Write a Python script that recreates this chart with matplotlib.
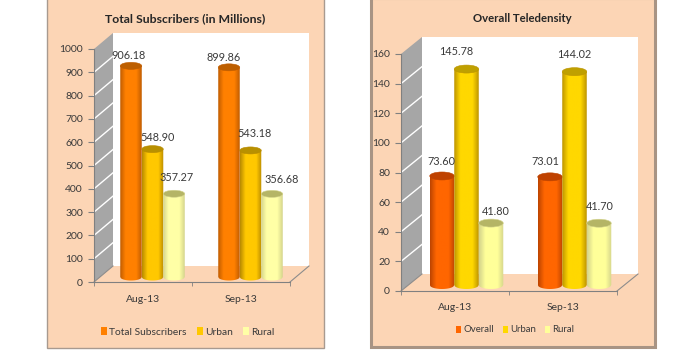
import matplotlib
matplotlib.use("Agg")
import matplotlib.pyplot as plt
import numpy as np
from matplotlib.colors import LinearSegmentedColormap
from matplotlib.patches import Ellipse, PathPatch, Polygon, Rectangle
from matplotlib.path import Path

plt.rcParams['font.family'] = ['Lato', 'DejaVu Sans']

W, H = 700, 350
TEXT = '#3a3a3a'
PEACH = '#fcd5b5'

months = ['Aug-13', 'Sep-13']

subs_names = ['Total Subscribers', 'Urban', 'Rural']
subs_total = [906.18, 899.86]
subs_urban = [548.90, 543.18]
subs_rural = [357.27, 356.68]
subs_ticks = [0, 100, 200, 300, 400, 500, 600, 700, 800, 900, 1000]

dens_names = ['Overall', 'Urban', 'Rural']
dens_overall = [73.60, 73.01]
dens_urban = [145.78, 144.02]
dens_rural = [41.80, 41.70]
dens_ticks = [0, 20, 40, 60, 80, 100, 120, 140, 160]

# label offsets from bar top, in pixels, one row per series
subs_label_off = [[(-3, 10), (-5, 10)], [(5, 12), (4, 17)], [(3, 16), (10, 14)]]
dens_label_off = [[(-1, 14), (-5, 15)], [(-10, 18), (0, 17)], [(5, 12), (1, 17)]]

# (edge, body, top)
subs_colors = [('#c05c00', '#ff8000', '#bd5f00'),
               ('#b88a00', '#ffc800', '#b89000'),
               ('#d4d48c', '#ffffa6', '#b5b566')]
dens_colors = [('#bd4400', '#ff6600', '#bf4200'),
               ('#bd9400', '#ffd800', '#bfa000'),
               ('#d4d48c', '#ffff99', '#b5b566')]


def fx(x):
    return x / W


def fy(y):
    return 1 - y / H


def panel(x0, y0, x1, y1, edge, lw):
    fig.add_artist(Rectangle((fx(x0), fy(y1)), fx(x1 - x0), y1 / H - y0 / H, facecolor=PEACH,
                             edgecolor=edge, linewidth=lw, transform=fig.transFigure, zorder=-1))


def cylinder(ax, xc, base, val, w, eh, cols, z):
    edge, body, top = cols
    xs = np.linspace(-1, 1, 30)
    arc_x = xc + xs * w / 2
    arc_y = base - np.sqrt(1 - xs ** 2) * eh / 2
    verts = list(zip(arc_x, arc_y)) + [(xc + w / 2, base + val), (xc - w / 2, base + val), (xc - w / 2, base)]
    path = Path(verts)
    cmap = LinearSegmentedColormap.from_list('c', [edge, body, body, body, edge])
    im = ax.imshow(np.linspace(0, 1, 64).reshape(1, -1), cmap=cmap, aspect='auto', zorder=z,
                   extent=(xc - w / 2, xc + w / 2, base - eh, base + val))
    patch = PathPatch(path, facecolor='none', edgecolor='none', transform=ax.transData)
    ax.add_patch(patch)
    im.set_clip_path(patch)
    ax.add_patch(Ellipse((xc, base + val), w, eh, facecolor=top, edgecolor=edge, linewidth=0.4, zorder=z + 0.1))


def chart(x0, x1, y0, y1, ymax, ticks, series, names, colors, label_off, depth, lift, shift, bar_w, ell_h,
          title, title_size, title_x, title_y, leg_x, leg_y, leg_size, leg_gap):
    ax = fig.add_axes([fx(x0), fy(y0), fx(x1 - x0), (y0 - y1) / H])
    ax.patch.set_visible(False)
    px_x = 2 / (x1 - x0)
    px_y = ymax / (y0 - y1)
    dx = depth[0] * px_x
    dy = depth[1] * px_y

    # back wall, side wall and floor
    ax.add_patch(Polygon([(dx, dy), (dx, ymax + dy), (2 + dx, ymax + dy), (2 + dx, dy)], facecolor='white',
                         edgecolor='none', zorder=0.5, clip_on=False))
    ax.add_patch(Polygon([(0, 0), (0, ymax), (dx, ymax + dy), (dx, dy)], facecolor='#a6a6a6',
                         edgecolor='none', zorder=0.6, clip_on=False))
    ax.add_patch(Polygon([(0, 0), (dx, dy), (2 + dx, dy), (2, 0)], facecolor=PEACH,
                         edgecolor='none', zorder=0.6, clip_on=False))
    for t in ticks[1:-1]:
        ax.plot([0, dx], [t, t + dy], color='white', lw=1, zorder=0.7, clip_on=False)
    ax.plot([2, 2 + dx], [0, dy], color='#8c8c8c', lw=0.8, zorder=0.7, clip_on=False)
    ax.plot([0, dx], [0, dy], color='#8c8c8c', lw=0.8, zorder=0.7, clip_on=False)

    w = bar_w * px_x
    eh = ell_h * px_y
    base = lift * px_y
    for s, vals in enumerate(series):
        for g, v in enumerate(vals):
            xc = g + 0.5 + shift * px_x + (s - 1) * w
            cylinder(ax, xc, base, v, w, eh, colors[s], 2 + s + g * 0.01)
            ax.annotate(f'{v:.2f}', (xc, base + v), xytext=label_off[s][g], textcoords='offset pixels',
                        ha='center', va='center', fontsize=7.8, color=TEXT, zorder=8, annotation_clip=False)

    ax.set_xlim(0, 2)
    ax.set_ylim(0, ymax)
    ax.set_xticks([0.5, 1.5], months)
    ax.set_xticks([0, 1, 2], minor=True)
    ax.set_yticks(ticks)
    ax.tick_params(axis='x', which='major', length=0, pad=9, labelsize=7.5, labelcolor=TEXT)
    ax.tick_params(axis='x', which='minor', length=3, color='#808080', direction='out')
    ax.tick_params(axis='y', length=4, color='#808080', pad=4, labelsize=7.5, labelcolor=TEXT)
    for side in ['top', 'right']:
        ax.spines[side].set_visible(False)
    for side in ['left', 'bottom']:
        ax.spines[side].set_color('#808080')
        ax.spines[side].set_linewidth(0.8)
        ax.spines[side].set_zorder(1)

    fig.text(fx(title_x), fy(title_y), title, ha='center', va='center', fontsize=title_size, fontweight='bold', color='#262626')
    handles = [Rectangle((0, 0), 1, 1, facecolor=c[1]) for c in colors]
    fig.legend(handles, names, loc='center', bbox_to_anchor=(fx(leg_x), fy(leg_y)), ncols=3, frameon=False,
               fontsize=leg_size, labelcolor=TEXT, handlelength=0.55, handleheight=0.8, handletextpad=0.25,
               columnspacing=leg_gap, borderpad=0, borderaxespad=0)


fig = plt.figure(figsize=(7, 3.5), dpi=100, facecolor='white')
panel(47, -2, 324, 348, '#a89a90', 1.0)
panel(371, -2, 655, 347, '#a89484', 2.2)

chart(94, 290, 282, 49, 1000, subs_ticks, [subs_total, subs_urban, subs_rural], subs_names, subs_colors,
      subs_label_off, (19, 16), 5, 9.5, 21.5, 7, 'Total Subscribers (in Millions)', 8.8, 185, 19, 188, 332, 7.4, 1.0)
chart(401, 617, 291, 54, 160, dens_ticks, [dens_overall, dens_urban, dens_rural], dens_names, dens_colors,
      dens_label_off, (21, 17), 6, 11.5, 24.5, 8, 'Overall Teledensity', 8.2, 522, 18, 515, 330, 6.9, 0.9)

fig.savefig('out.png', dpi=100)
